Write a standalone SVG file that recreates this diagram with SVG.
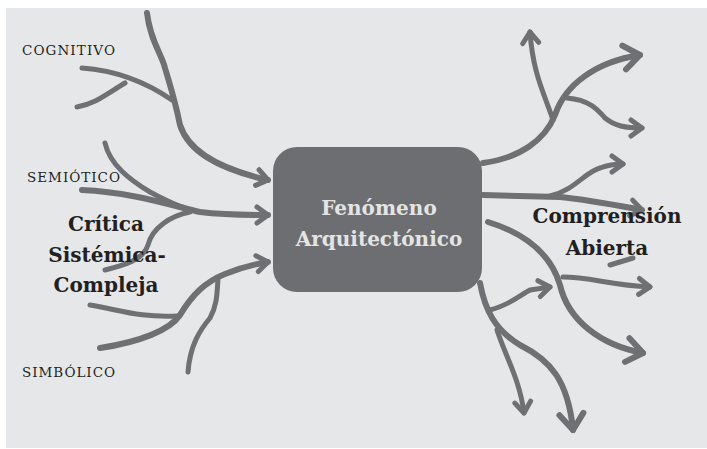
<svg xmlns="http://www.w3.org/2000/svg" width="707" height="449" viewBox="0 0 707 449">
<style>
.ln{fill:none;stroke:#6f7073;stroke-width:6;stroke-linecap:round;stroke-linejoin:round}
.th{stroke-width:5}
.small{font-family:"DejaVu Serif","Liberation Serif",serif;font-size:13.5px;fill:#231f20}
.bold{font-family:"DejaVu Serif","Liberation Serif",serif;font-size:20px;font-weight:bold;fill:#231f20;text-anchor:middle}
.ctr{font-family:"DejaVu Serif","Liberation Serif",serif;font-size:20px;font-weight:bold;fill:#e4e4e4;text-anchor:middle}
</style>
<defs>
<marker id="as" markerUnits="userSpaceOnUse" viewBox="-20 -20 40 40" markerWidth="40" markerHeight="40" refX="0" refY="0" orient="auto" overflow="visible">
<path d="M-11,-8 L0,0 L-11,8" fill="none" stroke="#6f7073" stroke-width="5" stroke-linecap="round" stroke-linejoin="round"/>
</marker>
<marker id="ab" markerUnits="userSpaceOnUse" viewBox="-20 -20 40 40" markerWidth="40" markerHeight="40" refX="0" refY="0" orient="auto" overflow="visible">
<path d="M-16,-12 L0,0 L-16,12" fill="none" stroke="#6f7073" stroke-width="6" stroke-linecap="round" stroke-linejoin="round"/>
</marker>
</defs>
<rect x="0" y="0" width="707" height="449" fill="#ffffff"/>
<rect x="6" y="8" width="701" height="440" fill="#e6e7e9"/>
<g id="connectors">
<path class="ln" d="M147,13 C150,40 162,55 165,68 C170,85 175,100 180,125 C188,150 215,168 268,180" marker-end="url(#as)"/>
<path class="ln th" d="M82,68 C110,70 140,78 172,100"/>
<path class="ln th" d="M77,107 C95,104 105,95 125,83"/>
<path class="ln" d="M82,190 C130,192 170,205 200,212 C225,215 245,215 268,215" marker-end="url(#as)"/>
<path class="ln th" d="M105,143 C110,165 130,180 150,192 C165,200 175,205 185,208"/>
<path class="ln th" d="M105,270 C125,265 143,260 148,245 C152,228 170,216 190,212"/>
<path class="ln" d="M100,348 C140,342 170,330 180,315 C192,295 205,282 225,274 C240,268 255,264 268,262" marker-end="url(#as)"/>
<path class="ln th" d="M90,305 C120,310 140,318 178,316"/>
<path class="ln th" d="M188,372 C190,345 200,330 210,318 C217,305 217,295 218,278"/>
<path class="ln" d="M483,163 C520,158 545,140 555,115 C565,85 595,62 640,55" marker-end="url(#ab)"/>
<path class="ln th" d="M553,120 C545,95 533,75 530,32" marker-end="url(#as)"/>
<path class="ln th" d="M567,98 C590,100 598,110 605,118 C615,126 625,128 642,128" marker-end="url(#as)"/>
<path class="ln" d="M483,195 L560,197 C590,200 615,205 642,210" marker-end="url(#as)"/>
<path class="ln th" d="M550,196 C575,190 585,172 600,168 C608,165 615,164 623,164" marker-end="url(#as)"/>
<path class="ln" d="M488,222 C530,235 552,258 560,285 C568,320 600,345 643,353" marker-end="url(#ab)"/>
<path class="ln th" d="M563,277 C590,277 610,285 650,287" marker-end="url(#as)"/>
<path class="ln" d="M480,283 C485,310 495,330 520,345 C550,360 568,380 573,430" marker-end="url(#ab)"/>
<path class="ln th" d="M497,330 C505,355 520,380 524,413" marker-end="url(#as)"/>
<path class="ln th" d="M490,310 C510,305 520,295 530,290 L550,287" marker-end="url(#as)"/>
<path class="ln th" d="M610,265 L633,258"/>
</g>
<g id="node-fenomeno">
<rect x="273" y="147" width="209" height="145" rx="24" fill="#6d6e71"/>
<text class="ctr" x="379" y="215">Fenómeno</text>
<text class="ctr" x="379" y="246">Arquitectónico</text>
</g>
<g id="label-cognitivo"><text class="small" x="22" y="55" textLength="93" lengthAdjust="spacing">COGNITIVO</text></g>
<g id="label-semiotico"><text class="small" x="27" y="182" textLength="93" lengthAdjust="spacing">SEMIÓTICO</text></g>
<g id="label-simbolico"><text class="small" x="22" y="377" textLength="93" lengthAdjust="spacing">SIMBÓLICO</text></g>
<g id="label-critica">
<text class="bold" x="106" y="231">Crítica</text>
<text class="bold" x="107" y="262">Sistémica-</text>
<text class="bold" x="106" y="292">Compleja</text>
</g>
<g id="label-comprension">
<text class="bold" x="607" y="223">Comprensión</text>
<text class="bold" x="607" y="255">Abierta</text>
</g>
</svg>
